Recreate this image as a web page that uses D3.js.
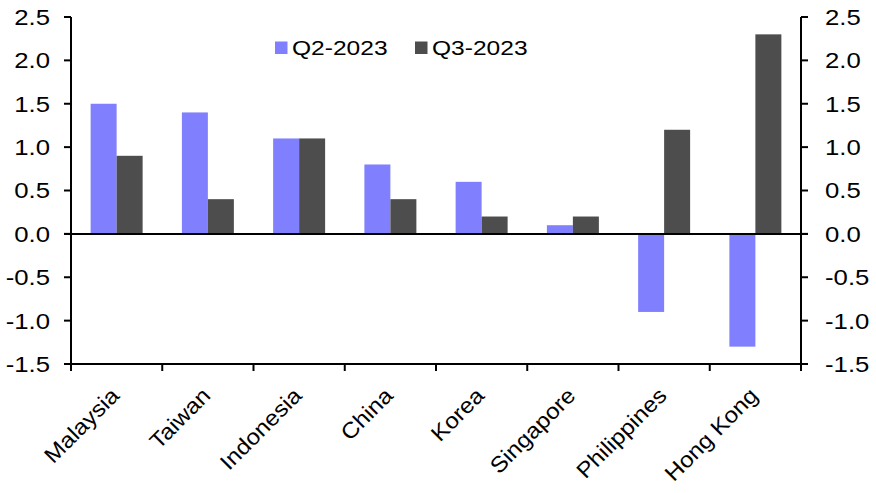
<!DOCTYPE html>
<html><head><meta charset="utf-8">
<script src="https://cdn.jsdelivr.net/npm/d3@7"></script>
<style>html,body{margin:0;padding:0;background:#fff;}svg{display:block;}</style>
</head><body>
<svg id="chart" width="876" height="493"></svg>
<script>
const categories = ["Malaysia","Taiwan","Indonesia","China","Korea","Singapore","Philippines","Hong Kong"];
const seriesNames = ["Q2-2023","Q3-2023"];
const q2 = [1.5, 1.4, 1.1, 0.8, 0.6, 0.1, -0.9, -1.3];
const q3 = [0.9, 0.4, 1.1, 0.4, 0.2, 0.2, 1.2, 2.3];
const yTicks = [2.5, 2.0, 1.5, 1.0, 0.5, 0.0, -0.5, -1.0, -1.5];
const colors = ["#8080FF", "#4D4D4D"];

const svg = d3.select("#chart");
const L = 71, R = 801, T = 17, B = 364;
const SX = 1.17; // horizontal text stretch
const font = "'Liberation Sans', Arial, sans-serif";
const fs = 22;

const x = d3.scaleBand().domain(categories).range([L, R]).paddingInner(0).paddingOuter(0);
const x1 = d3.scaleBand().domain(seriesNames).range([0, x.bandwidth()]).paddingInner(0).paddingOuter(0.755);
const y = d3.scaleLinear().domain([-1.5, 2.5]).range([B, T]);

const data = categories.map((c, i) => ({c, vals: [q2[i], q3[i]]}));

// bars
const g = svg.append("g");
data.forEach(d => {
  d.vals.forEach((v, j) => {
    g.append("rect")
      .attr("x", x(d.c) + x1(seriesNames[j]))
      .attr("width", x1.bandwidth())
      .attr("y", y(Math.max(0, v)))
      .attr("height", Math.abs(y(v) - y(0)))
      .attr("fill", colors[j]);
  });
});

// axes lines
const ax = svg.append("g").attr("stroke", "#000").attr("stroke-width", 2).attr("fill", "none");
ax.append("line").attr("x1", L).attr("x2", L).attr("y1", T).attr("y2", B + 7);
ax.append("line").attr("x1", R).attr("x2", R).attr("y1", T).attr("y2", B + 7);
ax.append("line").attr("x1", L - 7).attr("x2", R + 7).attr("y1", y(0)).attr("y2", y(0));
ax.append("line").attr("x1", L).attr("x2", R).attr("y1", B).attr("y2", B);
yTicks.forEach(t => {
  ax.append("line").attr("x1", L - 7).attr("x2", L).attr("y1", y(t)).attr("y2", y(t));
  ax.append("line").attr("x1", R).attr("x2", R + 7).attr("y1", y(t)).attr("y2", y(t));
});
categories.forEach(c => {
  ax.append("line").attr("x1", x(c)).attr("x2", x(c)).attr("y1", B).attr("y2", B + 7);
});

// y tick labels
yTicks.forEach(t => {
  svg.append("text").text(t.toFixed(1))
    .attr("transform", `translate(50,${y(t)}) scale(${SX},1)`)
    .attr("dy", "0.36em").attr("text-anchor", "end")
    .attr("font-family", font).attr("font-size", fs).attr("fill", "#000");
  svg.append("text").text(t.toFixed(1))
    .attr("transform", `translate(825,${y(t)}) scale(${SX},1)`)
    .attr("dy", "0.36em").attr("text-anchor", "start")
    .attr("font-family", font).attr("font-size", fs).attr("fill", "#000");
});

// x labels
categories.forEach(c => {
  const cx = x(c) + x.bandwidth() / 2;
  svg.append("text").text(c)
    .attr("transform", `translate(${cx + 4},${B + 33}) rotate(-45) scale(1.1,1)`)
    .attr("text-anchor", "end")
    .attr("font-family", font).attr("font-size", fs).attr("fill", "#000");
});

// legend
const legX = [275, 415];
seriesNames.forEach((s, j) => {
  svg.append("rect").attr("x", legX[j]).attr("y", 41.5).attr("width", 12.5).attr("height", 12.5).attr("fill", colors[j]);
  svg.append("text").text(s)
    .attr("transform", `translate(${legX[j] + 17},55) scale(${SX},1)`)
    .attr("font-family", font).attr("font-size", 21).attr("fill", "#000");
});
</script>
</body></html>
